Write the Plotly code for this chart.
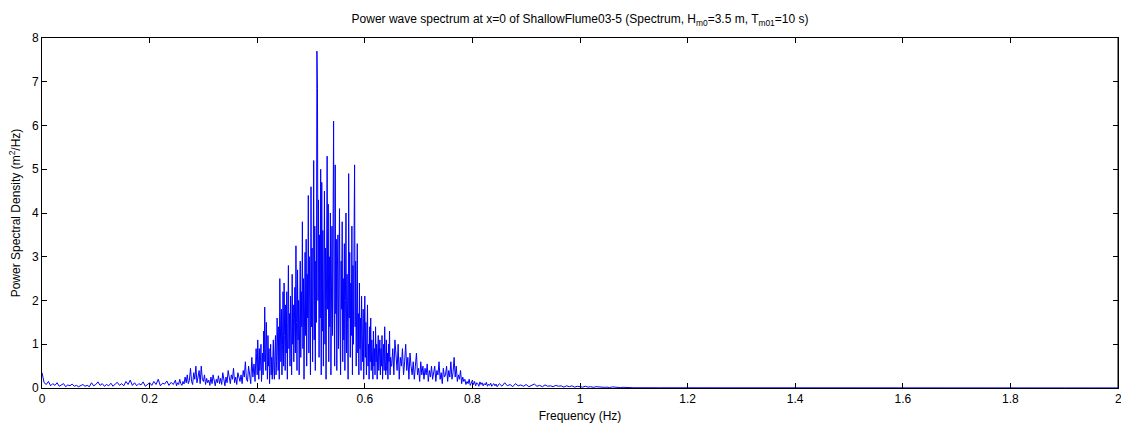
import numpy as np
import plotly.graph_objects as go

# Low-frequency band 0 .. 0.248 Hz (step 0.004)
psd_low = [0.35, 0.12, 0.08, 0.15, 0.05, 0.1, 0.06, 0.12, 0.04, 0.08,
           0.1, 0.03, 0.07, 0.05, 0.09, 0.04, 0.06, 0.03, 0.05, 0.08,
           0.04, 0.06, 0.03, 0.12, 0.05, 0.08, 0.14, 0.06, 0.1, 0.04,
           0.08, 0.05, 0.11, 0.04, 0.09, 0.13, 0.06, 0.1, 0.05, 0.15,
           0.08, 0.18, 0.06, 0.12, 0.05, 0.1, 0.07, 0.14, 0.04, 0.09,
           0.12, 0.06, 0.15, 0.08, 0.2, 0.05, 0.11, 0.09, 0.16, 0.06,
           0.13, 0.08, 0.18]

# Rising band 0.250 .. 0.398 Hz (step 0.002)
psd_rise = [0.05, 0.12, 0.08, 0.2, 0.1, 0.06, 0.15, 0.09, 0.25, 0.12,
            0.3, 0.1, 0.18, 0.45, 0.15, 0.08, 0.35, 0.2, 0.5, 0.12,
            0.25, 0.4, 0.1, 0.5, 0.2, 0.15, 0.3, 0.08, 0.22, 0.12,
            0.18, 0.06, 0.25, 0.1, 0.3, 0.15, 0.05, 0.2, 0.12, 0.28,
            0.1, 0.22, 0.08, 0.35, 0.15, 0.05, 0.25, 0.12, 0.4, 0.18,
            0.1, 0.3, 0.2, 0.45, 0.12, 0.25, 0.08, 0.35, 0.2, 0.15,
            0.3, 0.1, 0.4, 0.25, 0.6, 0.2, 0.15, 0.5, 0.3, 0.1,
            0.7, 0.25, 0.55, 0.15, 0.9]

# Core band 0.400 .. 0.649 Hz (step 0.001)
psd_core = [0.3, 1.1, 0.5, 0.2, 0.9, 0.4, 0.6, 1.0, 0.15, 0.5,
            0.8, 0.3, 1.3, 0.6, 1.85, 0.9, 0.4, 1.5, 0.7, 0.2,
            1.2, 0.5, 0.9, 0.1, 0.6, 1.0, 0.3, 0.7, 0.2, 0.5,
            1.1, 0.4, 0.2, 0.8, 1.2, 0.3, 0.6, 1.6, 0.9, 0.4,
            1.4, 0.2, 2.5, 1.1, 0.6, 1.8, 0.3, 1.0, 2.2, 0.5,
            2.4, 1.2, 0.4, 1.9, 0.8, 2.2, 0.2, 1.5, 2.8, 0.9,
            1.7, 0.5, 2.1, 1.3, 0.3, 2.6, 1.0, 1.9, 0.6, 1.4,
            2.3, 0.8, 3.25, 1.5, 0.4, 2.7, 1.1, 2.0, 0.3, 1.6,
            2.9, 0.7, 2.2, 1.4, 3.8, 0.9, 2.5, 0.2, 1.8, 3.1,
            1.2, 3.4, 0.5, 2.6, 1.6, 4.4, 0.8, 3.0, 1.9, 0.3,
            4.6, 1.4, 3.2, 0.6, 2.4, 5.2, 1.1, 3.7, 0.4, 2.9,
            1.5, 7.7, 6.85, 2.0, 4.3, 0.7, 3.5, 1.6, 5.0, 0.3,
            4.7, 1.3, 3.6, 0.5, 2.8, 4.5, 1.0, 3.2, 0.2, 2.2,
            5.3, 1.8, 4.2, 0.6, 3.0, 1.4, 4.0, 0.3, 2.5, 3.7,
            1.2, 4.8, 6.1, 2.0, 0.5, 5.1, 1.7, 3.4, 0.4, 2.7,
            3.5, 0.9, 2.3, 4.1, 1.3, 0.3, 2.9, 1.8, 3.8, 0.6,
            2.5, 1.1, 3.3, 0.4, 2.0, 4.0, 0.8, 2.6, 1.5, 0.2,
            4.9, 1.6, 3.1, 0.7, 2.4, 1.2, 3.7, 0.3, 2.8, 1.0,
            3.4, 5.1, 1.4, 2.9, 0.5, 2.2, 3.3, 0.8, 1.7, 0.3,
            2.4, 0.9, 1.6, 0.4, 2.1, 1.2, 0.6, 1.8, 0.2, 1.1,
            2.1, 0.7, 1.5, 0.3, 1.2, 1.9, 0.5, 1.0, 0.2, 1.4,
            0.6, 1.6, 0.4, 1.1, 0.8, 0.2, 1.3, 0.5, 0.9, 0.3,
            1.4, 0.6, 1.0, 0.2, 0.8, 1.2, 0.4, 0.7, 1.1, 0.3,
            0.9, 0.5, 1.2, 0.2, 0.7, 1.0, 0.4, 1.4, 0.6, 0.3,
            1.1, 0.4, 0.8, 0.2, 1.0, 0.6, 1.3, 0.3, 0.7, 0.5]

# Falling band 0.650 .. 0.848 Hz (step 0.002)
psd_fall = [0.5, 0.9, 0.3, 1.1, 0.6, 0.4, 1.0, 0.2, 0.7, 0.5,
            0.9, 0.3, 0.6, 1.0, 0.4, 0.7, 0.2, 0.8, 0.5, 0.3,
            0.6, 0.2, 0.5, 0.8, 0.3, 0.45, 0.15, 0.6, 0.3, 0.5,
            0.2, 0.45, 0.3, 0.55, 0.15, 0.4, 0.25, 0.5, 0.2, 0.35,
            0.5, 0.15, 0.4, 0.3, 0.6, 0.2, 0.35, 0.1, 0.45, 0.25,
            0.3, 0.5, 0.15, 0.4, 0.25, 0.6, 0.2, 0.35, 0.7, 0.25,
            0.5, 0.15, 0.3, 0.2, 0.4, 0.1, 0.25, 0.15, 0.2, 0.08,
            0.15, 0.1, 0.2, 0.06, 0.12, 0.18, 0.08, 0.15, 0.05, 0.12,
            0.1, 0.04, 0.14, 0.08, 0.12, 0.05, 0.1, 0.07, 0.13, 0.04,
            0.09, 0.06, 0.11, 0.04, 0.08, 0.1, 0.05, 0.09, 0.03, 0.07]

# Tail band 0.850 .. 1.095 Hz (step 0.005)
psd_tail = [0.1, 0.04, 0.12, 0.05, 0.08, 0.03, 0.1, 0.05, 0.07, 0.04,
            0.08, 0.03, 0.07, 0.09, 0.04, 0.06, 0.03, 0.07, 0.04, 0.05,
            0.03, 0.06, 0.04, 0.05, 0.02, 0.05, 0.03, 0.05, 0.02, 0.04,
            0.03, 0.02, 0.04, 0.02, 0.03, 0.015, 0.03, 0.02, 0.025, 0.015,
            0.02, 0.01, 0.025, 0.015, 0.02, 0.01, 0.015, 0.01, 0.012, 0.008]

# High band 1.10 .. 2.00 Hz (step 0.05)
psd_high = [0.006, 0.005, 0.006, 0.004, 0.005, 0.004, 0.005, 0.003, 0.004, 0.003,
            0.004, 0.003, 0.003, 0.002, 0.003, 0.002, 0.002, 0.002, 0.002]

x_ticks = [0, 0.2, 0.4, 0.6, 0.8, 1, 1.2, 1.4, 1.6, 1.8, 2]
x_labels = ["0", "0.2", "0.4", "0.6", "0.8", "1", "1.2", "1.4", "1.6", "1.8", "2"]
y_ticks = [0, 1, 2, 3, 4, 5, 6, 7, 8]

f_low = np.round(np.arange(len(psd_low)) * 0.004, 4)
f_rise = np.round(0.25 + np.arange(len(psd_rise)) * 0.002, 4)
f_core = np.round(0.40 + np.arange(len(psd_core)) * 0.001, 4)
f_fall = np.round(0.65 + np.arange(len(psd_fall)) * 0.002, 4)
f_tail = np.round(0.85 + np.arange(len(psd_tail)) * 0.005, 4)
f_high = np.round(1.10 + np.arange(len(psd_high)) * 0.05, 4)

freq = np.concatenate([f_low, f_rise, f_core, f_fall, f_tail, f_high])
psd = np.concatenate([psd_low, psd_rise, psd_core, psd_fall, psd_tail, psd_high])

font = "Liberation Sans, Arial, Helvetica, sans-serif"

fig = go.Figure()
fig.add_trace(go.Scatter(x=freq, y=psd, mode="lines",
                         line=dict(color="#0000ff", width=1), showlegend=False))

axis_common = dict(showline=True, linecolor="black", linewidth=1, mirror="ticks",
                   ticks="inside", ticklen=5, tickcolor="black", tickwidth=1,
                   showgrid=False, zeroline=False,
                   tickfont=dict(family=font, size=12, color="black"))

fig.update_layout(
    width=1121, height=428,
    margin=dict(l=42, r=3, t=38, b=40),
    plot_bgcolor="white", paper_bgcolor="white",
    font=dict(family=font, size=12, color="black"),
    title=dict(text="Power wave spectrum at x=0 of ShallowFlume03-5 (Spectrum, H<sub>m0</sub>=3.5 m, T<sub>m01</sub>=10 s)",
               x=0.5, xref="paper", xanchor="center", y=0.955, yanchor="middle",
               font=dict(family=font, size=12, color="black")),
    xaxis=dict(range=[0, 2], tickvals=x_ticks[:-1], ticktext=x_labels[:-1],
               title=dict(text="Frequency (Hz)", standoff=6, font=dict(family=font, size=12)),
               **axis_common),
    yaxis=dict(range=[0, 8], tickvals=y_ticks,
               title=dict(text="Power Spectral Density (m<sup>2</sup>/Hz)", standoff=8,
                          font=dict(family=font, size=12)),
               **axis_common),
)

# Last x tick label (partly outside the figure edge, as in the reference)
fig.add_annotation(x=x_ticks[-1], y=0, xref="x", yref="paper", text=x_labels[-1],
                   showarrow=False, xanchor="center", yanchor="top", yshift=-2,
                   font=dict(family=font, size=12, color="black"))
fig.add_shape(type="line", xref="x", yref="paper", x0=2, x1=2, y0=0, y1=1,
              line=dict(color="black", width=1))

fig.write_html("out.html")
